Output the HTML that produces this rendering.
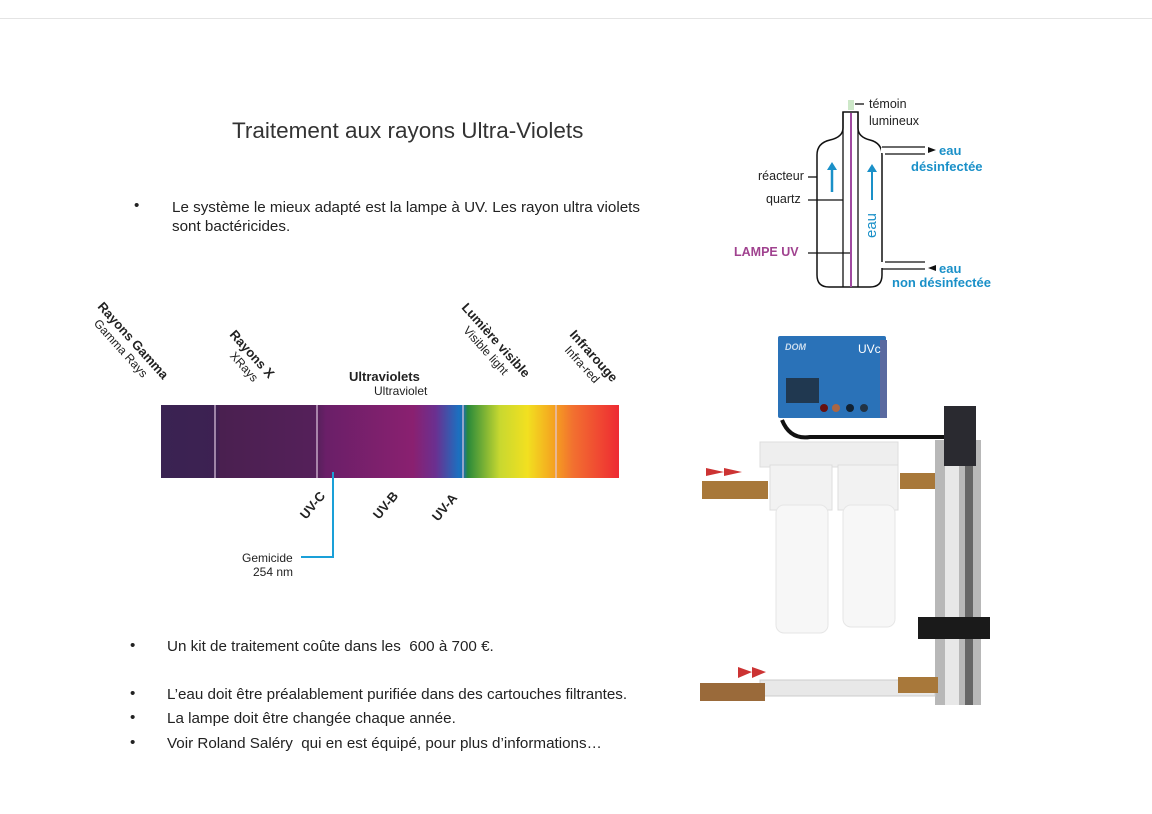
<!DOCTYPE html>
<html><head><meta charset="utf-8"><style>
body{margin:0;background:#fff;width:1152px;height:814px;overflow:hidden;position:relative;font-family:"Liberation Sans","DejaVu Sans",sans-serif}
.t{position:absolute;color:#222;font-size:15.2px;white-space:nowrap}
</style></head><body>
<div style="position:absolute;left:0;top:18px;width:1152px;height:1px;background:#e4e4e4"></div>
<div class="t" style="left:232px;top:118px;font-size:22.5px;color:#333">Traitement aux rayons Ultra-Violets</div>
<div class="t" style="left:134px;top:197px">•</div>
<div class="t" style="left:172px;top:198px;line-height:19px">Le système le mieux adapté est la lampe à UV. Les rayon ultra violets<br>sont bactéricides.</div>
<div class="t" style="left:130px;top:637px">•</div>
<div class="t" style="left:167px;top:638px">Un kit de traitement coûte dans les&nbsp; 600 à 700 €.</div>
<div class="t" style="left:130px;top:685px">•</div>
<div class="t" style="left:167px;top:686px">L’eau doit être préalablement purifiée dans des cartouches filtrantes.</div>
<div class="t" style="left:130px;top:709px">•</div>
<div class="t" style="left:167px;top:710px">La lampe doit être changée chaque année.</div>
<div class="t" style="left:130px;top:734px">•</div>
<div class="t" style="left:167px;top:735px">Voir Roland Saléry&nbsp; qui en est équipé, pour plus d’informations…</div>

<svg width="1152" height="814" style="position:absolute;left:0;top:0" font-family="Liberation Sans, sans-serif">
<defs>
<linearGradient id="sp" x1="161" x2="619" gradientUnits="userSpaceOnUse">
<stop offset="0" stop-color="#3a2352"/><stop offset="0.12" stop-color="#3d2152"/>
<stop offset="0.13" stop-color="#4a2050"/><stop offset="0.34" stop-color="#55205a"/>
<stop offset="0.36" stop-color="#6a1f68"/><stop offset="0.55" stop-color="#8a2070"/>
<stop offset="0.6" stop-color="#6a3090"/><stop offset="0.65" stop-color="#1c70c0"/>
<stop offset="0.66" stop-color="#1c6fb0"/><stop offset="0.67" stop-color="#2a8a3a"/>
<stop offset="0.74" stop-color="#c8d830"/><stop offset="0.8" stop-color="#f2e020"/>
<stop offset="0.86" stop-color="#f5a020"/><stop offset="0.9" stop-color="#f27030"/>
<stop offset="1" stop-color="#ee2a33"/></linearGradient>
</defs>
<rect x="161" y="405" width="458" height="73" fill="url(#sp)"/>
<g stroke="#e0c8e0" stroke-width="1.2"><line x1="215" y1="405" x2="215" y2="478"/><line x1="317" y1="405" x2="317" y2="478"/><line x1="463" y1="405" x2="463" y2="478"/><line x1="556" y1="405" x2="556" y2="478"/></g>
<g fill="#222" font-size="12">
<g transform="translate(97,307) rotate(48)"><text font-weight="bold" font-size="13">Rayons Gamma</text><text x="10" y="14">Gamma Rays</text></g>
<g transform="translate(229,335) rotate(48)"><text font-weight="bold" font-size="13">Rayons X</text><text x="16" y="14">XRays</text></g>
<text x="349" y="381" font-weight="bold" font-size="13">Ultraviolets</text><text x="374" y="395">Ultraviolet</text>
<g transform="translate(461,308) rotate(48)"><text font-weight="bold" font-size="13">Lumière visible</text><text x="18" y="14">Visible light</text></g>
<g transform="translate(569,335) rotate(48)"><text font-weight="bold" font-size="13">Infrarouge</text><text x="8" y="14">Infra-red</text></g>
<g font-weight="bold" font-size="13"><text transform="translate(306,520) rotate(-50)">UV-C</text><text transform="translate(379,520) rotate(-50)">UV-B</text><text transform="translate(438,522) rotate(-50)">UV-A</text></g>
<text x="242" y="562">Gemicide</text><text x="253" y="576">254 nm</text>
</g>
<polyline points="301,557 333,557 333,472" fill="none" stroke="#1aa0d8" stroke-width="2"/>

<rect x="848" y="100" width="6" height="10" fill="#cde8c8"/>
<path d="M843,112 V128 Q843,137 830,140 Q817,143 817,155 V275 Q817,287 829,287 H870 Q882,287 882,275 V155 Q882,143 870,140 Q858,137 858,128 V112 Z" fill="none" stroke="#111" stroke-width="1.5"/>
<line x1="843" y1="112" x2="843" y2="287" stroke="#111" stroke-width="1.3"/>
<line x1="858" y1="112" x2="858" y2="287" stroke="#111" stroke-width="1.3"/>
<line x1="851" y1="113" x2="851" y2="287" stroke="#a04aa0" stroke-width="2"/>
<rect x="881" y="148" width="4" height="5" fill="#fff"/><rect x="881" y="262" width="4" height="6" fill="#fff"/>
<g stroke="#111" stroke-width="1.3"><line x1="882" y1="147" x2="925" y2="147"/><line x1="885" y1="154" x2="925" y2="154"/><line x1="885" y1="262" x2="925" y2="262"/><line x1="882" y1="269" x2="925" y2="269"/>
<line x1="855" y1="104" x2="864" y2="104"/><line x1="808" y1="177" x2="817" y2="177"/><line x1="808" y1="200" x2="843" y2="200"/><line x1="808" y1="253" x2="850" y2="253"/></g>
<polygon points="928,147 936,150 928,153" fill="#111"/><polygon points="936,265 928,268 936,271" fill="#111"/>
<g fill="#1a90c8"><line x1="832" y1="192" x2="832" y2="168" stroke="#1a90c8" stroke-width="2.5"/><polygon points="827,170 837,170 832,162"/>
<line x1="872" y1="200" x2="872" y2="170" stroke="#1a90c8" stroke-width="2"/><polygon points="867,172 877,172 872,164"/></g>
<text x="0" y="0" transform="translate(876,238) rotate(-90)" fill="#1a90c8" font-size="15">eau</text>
<g font-size="12.5" fill="#222"><text x="869" y="108">témoin</text><text x="869" y="125">lumineux</text><text x="758" y="180">réacteur</text><text x="766" y="203">quartz</text></g>
<text x="734" y="256" font-size="12.5" font-weight="bold" fill="#a0428f">LAMPE UV</text>
<g font-size="13" font-weight="bold" fill="#1a90c8"><text x="939" y="155">eau</text><text x="911" y="171">désinfectée</text><text x="939" y="273">eau</text><text x="892" y="287">non désinfectée</text></g>

<rect x="778" y="336" width="108" height="82" fill="#2a72b8" rx="2"/>
<rect x="880" y="340" width="7" height="78" fill="#5a6aa0"/>
<text x="858" y="353" fill="#fff" font-size="12">UVc</text>
<text x="785" y="350" fill="#cde" font-size="9" font-style="italic" font-weight="bold">DOM</text>
<rect x="786" y="378" width="33" height="25" fill="#203850"/>
<circle cx="824" cy="408" r="4" fill="#611"/><circle cx="836" cy="408" r="4" fill="#a64"/><circle cx="850" cy="408" r="4" fill="#123"/><circle cx="864" cy="408" r="4" fill="#234"/>
<path d="M782,420 Q790,440 810,437 H950" stroke="#111" stroke-width="4" fill="none"/>
<rect x="760" y="442" width="138" height="25" fill="#eee" stroke="#ddd"/>
<rect x="770" y="465" width="62" height="45" fill="#f2f2f2" stroke="#ddd"/>
<rect x="838" y="465" width="60" height="45" fill="#f2f2f2" stroke="#ddd"/>
<rect x="776" y="505" width="52" height="128" rx="8" fill="#f7f7f7" stroke="#e6e6e6"/>
<rect x="843" y="505" width="52" height="122" rx="8" fill="#f7f7f7" stroke="#e6e6e6"/>
<rect x="702" y="481" width="66" height="18" fill="#a8783a"/><rect x="900" y="473" width="40" height="16" fill="#a8783a"/>
<path d="M706,468 L724,472 L706,476Z M724,468 L742,472 L724,476Z" fill="#c33"/>
<rect x="935" y="440" width="46" height="265" fill="#b8b8b8"/>
<rect x="945" y="440" width="14" height="265" fill="#e8e8e8"/><rect x="965" y="440" width="8" height="265" fill="#666"/>
<rect x="944" y="406" width="32" height="60" fill="#2a2a30"/>
<rect x="918" y="617" width="72" height="22" fill="#1a1a1a"/>
<rect x="760" y="680" width="175" height="16" fill="#e8e8e8" stroke="#ccc"/>
<rect x="700" y="683" width="65" height="18" fill="#9a6a3a"/><rect x="898" y="677" width="40" height="16" fill="#a8783a"/>
<path d="M738,667 L752,672 L738,678Z M752,667 L766,672 L752,678Z" fill="#c33"/>
</svg>
</body></html>
